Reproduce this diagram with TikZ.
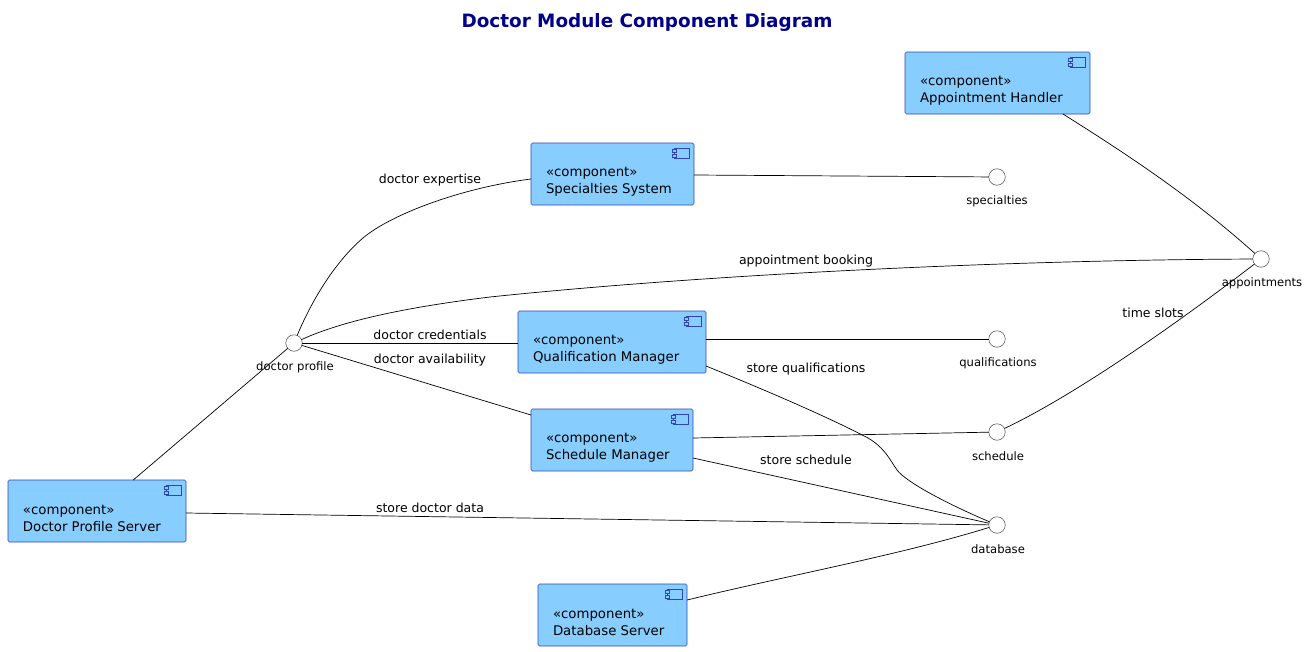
\documentclass[tikz,border=0pt]{standalone}
\usepackage{fontspec}
\setmainfont{DejaVu Sans}
\usepackage{tikz}
\usetikzlibrary{positioning,calc}
\definecolor{boxfill}{HTML}{87CEFF}
\definecolor{boxline}{HTML}{2F45B5}
\definecolor{titleblue}{HTML}{00008B}
\tikzset{
  x=1pt, y=-1pt,
  every node/.style={inner sep=0pt, outer sep=0pt},
  compbox/.style={draw=boxline, fill=boxfill, rounded corners=1.5pt, line width=0.6pt, anchor=north west},
  compicon/.style={draw=boxline, fill=boxfill, line width=0.6pt, minimum width=15pt, minimum height=10pt},
  compnub/.style={draw=boxline, fill=boxfill, line width=0.6pt, minimum width=4pt, minimum height=2.6pt},
  comptext/.style={anchor=west, align=left, font=\fontsize{13.3}{16.5}\selectfont},
  iface/.style={draw=black!75, fill=white, circle, minimum size=16.5pt, line width=0.5pt},
  ifacetext/.style={font=\fontsize{11.6}{14}\selectfont},
  linktext/.style={font=\fontsize{12.5}{14}\selectfont},
  link/.style={draw=black, line width=0.7pt},
}
\newcommand{\compnode}[6]{%
  \node[compbox, minimum width=#4pt, minimum height=#5pt] (#1) at (#2,#3) {};
  \node[compicon] (#1icon) at ($(#1.north east)+(-12,10)$) {};
  \node[compnub] (#1nuba) at ($(#1icon.west)+(0,-2.5)$) {};
  \node[compnub] (#1nubb) at ($(#1icon.west)+(0,2.5)$) {};
  \node[comptext] (#1text) at ($(#1.west)+(15,7.5)$) {«component»\\#6};
}
\begin{document}
\begin{tikzpicture}
  \useasboundingbox (0,0) rectangle (1307,651);
  \node[font=\bfseries\fontsize{18.4}{24}\selectfont, text=titleblue] (title) at (647,22.5) {Doctor Module Component Diagram};

  % interfaces
  \node[iface] (profile) at (294,343) {};
  \node[iface] (specialties) at (997,177) {};
  \node[iface] (appointments) at (1261,259) {};
  \node[iface] (qualifications) at (997,339) {};
  \node[iface] (schedule) at (997,432) {};
  \node[iface] (database) at (997,525) {};

  % components
  \compnode{handler}{905}{52}{185}{62}{Appointment Handler}
  \compnode{specsys}{531}{143}{163}{62}{Specialties System}
  \compnode{qualman}{518}{311}{188}{62}{Qualification Manager}
  \compnode{schedman}{531}{409}{162}{62}{Schedule Manager}
  \compnode{server}{8}{480}{178}{62}{Doctor Profile Server}
  \compnode{dbserver}{538}{584}{149}{62}{Database Server}

  % connectors
  \draw[link] (server) -- (profile);
  \draw[link] (profile) .. controls (312,300) and (335,262) .. (363,238) .. controls (390,215) and (460,188) .. (specsys.west |- 0,179);
  \draw[link] (profile) .. controls (340,322) and (400,308) .. (490,297) .. controls (700,275) and (1000,260) .. (appointments);
  \draw[link] (profile) -- (qualman.west |- profile);
  \draw[link] (profile) -- (schedman.west |- 0,415);
  \draw[link] (specsys.east |- 0,175) -- (specialties);
  \draw[link] (qualman.east |- qualifications) -- (qualifications);
  \draw[link] (schedman.east |- 0,438) -- (schedule);
  \draw[link] (schedule) .. controls (1075,395) and (1175,325) .. (appointments);
  \draw[link] (handler.south east) ++(-27,0) .. controls (1120,150) and (1190,195) .. (appointments);
  \draw[link] (qualman.east |- 0,366) .. controls (770,392) and (830,418) .. (868,438) .. controls (885,448) and (890,460) .. (897,470) .. controls (907,483) and (950,505) .. (database);
  \draw[link] (schedman.east |- 0,458) -- (database);
  \draw[link] (server.east |- 0,513) -- (database);
  \draw[link] (dbserver.east |- 0,600) .. controls (790,575) and (900,555) .. (database);

  % interface labels
  \node[ifacetext] (profiletext) at (295,367) {doctor profile};
  \node[ifacetext] (specialtiestext) at (997,201) {specialties};
  \node[ifacetext] (appointmentstext) at (1262,283) {appointments};
  \node[ifacetext] (qualificationstext) at (998,363) {qualifications};
  \node[ifacetext] (scheduletext) at (998,456) {schedule};
  \node[ifacetext] (databasetext) at (998,549) {database};

  % labels
  \node[linktext] (lexpertise) at (430,180) {doctor expertise};
  \node[linktext] (lbooking) at (806,261) {appointment booking};
  \node[linktext] (lcredentials) at (430,335) {doctor credentials};
  \node[linktext] (lavail) at (430,360) {doctor availability};
  \node[linktext] (lslots) at (1153,313) {time slots};
  \node[linktext] (lstorequal) at (806,369) {store qualifications};
  \node[linktext] (lstoresched) at (806,460) {store schedule};
  \node[linktext] (lstoredoc) at (430,508) {store doctor data};
\end{tikzpicture}
\end{document}
